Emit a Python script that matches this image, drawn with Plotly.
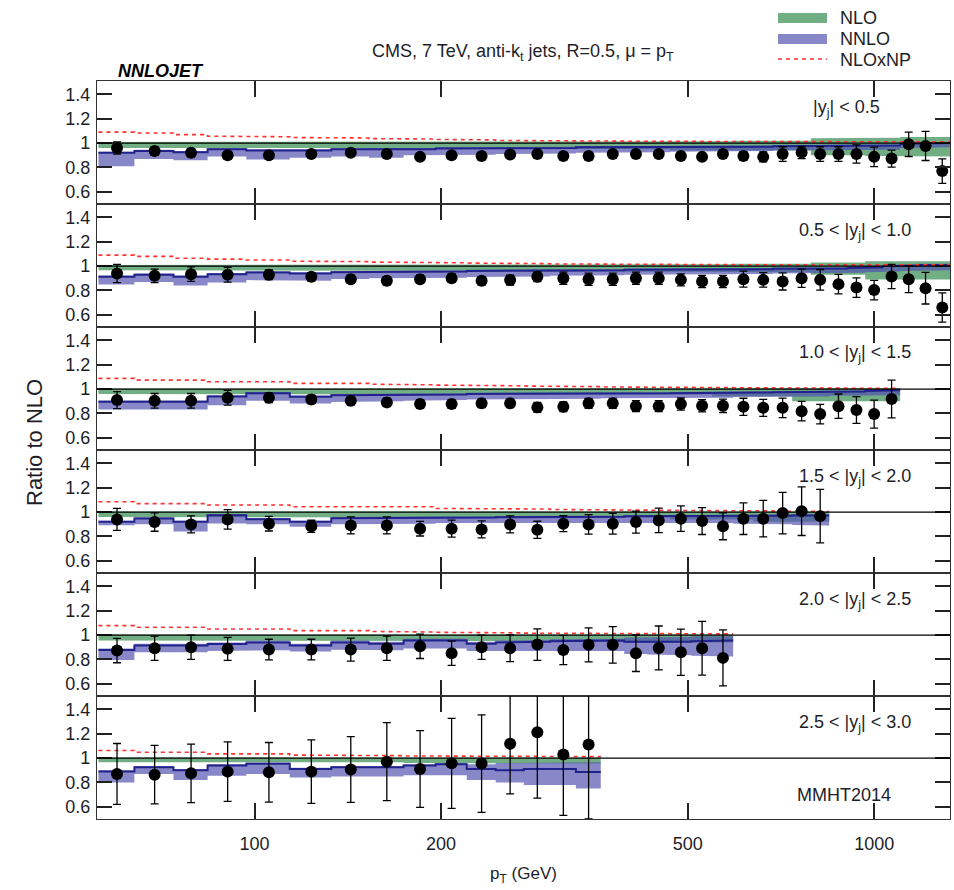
import numpy as np
import plotly.graph_objects as go
from plotly.subplots import make_subplots

# ---------------------------------------------------------------- binning
edges = [56, 64, 74, 84, 97, 114, 133, 153, 174, 196, 220, 245, 272, 300, 330,
         362, 395, 430, 468, 507, 548, 592, 638, 686, 737, 790, 846, 905, 967,
         1032, 1101, 1172, 1248, 1327]

rap_labels = ["|y<sub>j</sub>| < 0.5", "0.5 < |y<sub>j</sub>| < 1.0",
              "1.0 < |y<sub>j</sub>| < 1.5", "1.5 < |y<sub>j</sub>| < 2.0",
              "2.0 < |y<sub>j</sub>| < 2.5", "2.5 < |y<sub>j</sub>| < 3.0"]

# ---------------------------------------------------------------- CMS data / NLO
data1 = [0.96, 0.936, 0.92, 0.90, 0.90, 0.91, 0.92, 0.91, 0.887, 0.90, 0.895, 0.906,
         0.91, 0.895, 0.895, 0.91, 0.91, 0.91, 0.895, 0.887, 0.91, 0.895, 0.887, 0.91,
         0.922, 0.91, 0.91, 0.91, 0.887, 0.873, 0.99, 0.977, 0.77]
err1 = [0.05, 0.035, 0.035, 0.03, 0.025, 0.025, 0.025, 0.025, 0.025, 0.025, 0.025,
        0.025, 0.025, 0.025, 0.025, 0.025, 0.025, 0.025, 0.025, 0.025, 0.03, 0.035,
        0.04, 0.06, 0.05, 0.06, 0.06, 0.075, 0.08, 0.07, 0.10, 0.12, 0.10]

data2 = [0.939, 0.92, 0.934, 0.929, 0.929, 0.912, 0.893, 0.879, 0.893, 0.901, 0.879,
         0.885, 0.912, 0.901, 0.893, 0.893, 0.901, 0.901, 0.887, 0.874, 0.874, 0.893,
         0.887, 0.874, 0.901, 0.887, 0.852, 0.824, 0.803, 0.915, 0.893, 0.819, 0.66]
err2 = [0.075, 0.055, 0.06, 0.06, 0.04, 0.035, 0.035, 0.035, 0.035, 0.035, 0.035,
        0.04, 0.04, 0.05, 0.05, 0.05, 0.05, 0.05, 0.05, 0.05, 0.05, 0.065, 0.06, 0.07,
        0.075, 0.085, 0.08, 0.08, 0.08, 0.10, 0.11, 0.13, 0.12]

data3 = [0.91, 0.904, 0.904, 0.929, 0.929, 0.915, 0.904, 0.891, 0.877, 0.877, 0.883,
         0.883, 0.85, 0.855, 0.883, 0.883, 0.86, 0.86, 0.877, 0.863, 0.863, 0.855,
         0.846, 0.846, 0.819, 0.795, 0.86, 0.828, 0.795, 0.918]
err3 = [0.07, 0.06, 0.06, 0.06, 0.04, 0.035, 0.035, 0.035, 0.035, 0.035, 0.035, 0.035,
        0.04, 0.04, 0.04, 0.04, 0.045, 0.045, 0.05, 0.05, 0.055, 0.07, 0.07, 0.08,
        0.08, 0.08, 0.10, 0.11, 0.115, 0.155]

data4 = [0.94, 0.918, 0.899, 0.94, 0.905, 0.883, 0.891, 0.891, 0.864, 0.864, 0.858,
         0.899, 0.855, 0.905, 0.899, 0.905, 0.918, 0.932, 0.946, 0.926, 0.883, 0.946,
         0.946, 0.992, 1.008, 0.967]
err4 = [0.09, 0.075, 0.07, 0.08, 0.06, 0.05, 0.07, 0.07, 0.06, 0.07, 0.07, 0.07, 0.07,
        0.065, 0.08, 0.085, 0.09, 0.10, 0.105, 0.11, 0.11, 0.13, 0.15, 0.17, 0.20, 0.22]

data5 = [0.873, 0.892, 0.90, 0.887, 0.881, 0.881, 0.881, 0.892, 0.908, 0.851, 0.90,
         0.892, 0.922, 0.878, 0.92, 0.92, 0.851, 0.895, 0.859, 0.892, 0.813]
err5 = [0.10, 0.10, 0.10, 0.095, 0.085, 0.085, 0.095, 0.10, 0.10, 0.10, 0.10, 0.11,
        0.13, 0.12, 0.14, 0.15, 0.15, 0.18, 0.19, 0.22, 0.23]

data6 = [0.87, 0.864, 0.875, 0.889, 0.883, 0.889, 0.906, 0.971, 0.911, 0.957, 0.955,
         1.117, 1.212, 1.029, 1.111]
err6 = [0.25, 0.24, 0.24, 0.245, 0.245, 0.26, 0.27, 0.32, 0.315, 0.37, 0.40, 0.41,
        0.54, 0.50, 0.61]

# ---------------------------------------------------------------- NLO scale band
nlo_hi1 = [1.01] * 18 + [1.015, 1.015, 1.015, 1.02, 1.02, 1.02, 1.02, 1.04, 1.04, 1.04,
                         1.045, 1.045, 1.05, 1.05, 1.05]
nlo_lo1 = [0.96, 0.96, 0.96, 0.96, 0.96, 0.96, 0.96, 0.955, 0.955, 0.955, 0.955, 0.955,
           0.95, 0.95, 0.95, 0.95, 0.95, 0.95, 0.94, 0.94, 0.94, 0.94, 0.94, 0.94, 0.94,
           0.90, 0.90, 0.90, 0.895, 0.89, 0.89, 0.89, 0.89]
nlo_hi2 = [1.01] * 18 + [1.015, 1.015, 1.015, 1.02, 1.02, 1.02, 1.02, 1.03, 1.03, 1.03,
                         1.04, 1.04, 1.04, 1.04, 1.04]
nlo_lo2 = [0.965, 0.965, 0.965, 0.965, 0.965, 0.965, 0.965, 0.96, 0.96, 0.96, 0.96, 0.96,
           0.955, 0.955, 0.955, 0.955, 0.955, 0.955, 0.95, 0.95, 0.95, 0.95, 0.95, 0.95,
           0.95, 0.93, 0.93, 0.93, 0.89, 0.89, 0.89, 0.89, 0.89]
nlo_hi3 = [1.005] * 22 + [1.01] * 8
nlo_lo3 = [0.96] * 14 + [0.955] * 6 + [0.94] * 4 + [0.90] * 6
nlo_hi4 = [1.005] * 26
nlo_lo4 = [0.96] * 12 + [0.955] * 6 + [0.94] * 4 + [0.92] * 4
nlo_hi5 = [1.005] * 21
nlo_lo5 = [0.955] * 12 + [0.95] * 4 + [0.94] * 5
nlo_hi6 = [1.005] * 15
nlo_lo6 = [0.965] * 8 + [0.96] * 3 + [0.955] * 4

# ---------------------------------------------------------------- NNLO / NLO
nnlo_c1 = [0.92, 0.935, 0.925, 0.95, 0.94, 0.94, 0.95, 0.945, 0.95, 0.955, 0.955, 0.96,
           0.96, 0.96, 0.965, 0.965, 0.965, 0.965, 0.965, 0.965, 0.97, 0.97, 0.97, 0.975,
           0.975, 0.975, 0.975, 0.98, 0.98, 0.98, 0.995, 1.0, 1.0]
nnlo_hi1 = [0.93, 0.945, 0.935, 0.96, 0.95, 0.95, 0.96, 0.955, 0.96, 0.965, 0.965, 0.97,
            0.97, 0.97, 0.975, 0.975, 0.975, 0.975, 0.975, 0.975, 0.98, 0.98, 0.98, 0.985,
            0.985, 0.985, 0.985, 0.99, 0.99, 0.99, 1.005, 1.01, 1.01]
nnlo_lo1 = [0.81, 0.87, 0.86, 0.89, 0.865, 0.88, 0.89, 0.88, 0.90, 0.905, 0.905, 0.91,
            0.915, 0.915, 0.92, 0.92, 0.92, 0.925, 0.93, 0.93, 0.935, 0.935, 0.935, 0.94,
            0.94, 0.94, 0.94, 0.945, 0.945, 0.945, 0.96, 0.965, 0.965]

nnlo_c2 = [0.913, 0.93, 0.913, 0.934, 0.947, 0.94, 0.95, 0.95, 0.955, 0.955, 0.96, 0.96,
           0.962, 0.965, 0.965, 0.965, 0.97, 0.97, 0.97, 0.972, 0.975, 0.975, 0.975,
           0.978, 0.98, 0.98, 0.98, 0.985, 0.99, 1.0, 1.005, 1.01, 1.01]
nnlo_hi2 = [0.923, 0.94, 0.923, 0.944, 0.957, 0.95, 0.96, 0.96, 0.965, 0.965, 0.97, 0.97,
            0.972, 0.975, 0.975, 0.975, 0.98, 0.98, 0.98, 0.982, 0.985, 0.985, 0.985,
            0.988, 0.99, 0.99, 0.99, 0.995, 1.0, 1.01, 1.015, 1.02, 1.02]
nnlo_lo2 = [0.85, 0.87, 0.84, 0.865, 0.885, 0.88, 0.895, 0.90, 0.905, 0.905, 0.91, 0.915,
            0.915, 0.92, 0.92, 0.925, 0.93, 0.93, 0.93, 0.935, 0.935, 0.935, 0.935, 0.94,
            0.94, 0.94, 0.94, 0.945, 0.95, 0.955, 0.96, 0.965, 0.965]

nnlo_c3 = [0.896, 0.896, 0.896, 0.94, 0.965, 0.937, 0.95, 0.95, 0.955, 0.955, 0.96, 0.96,
           0.96, 0.962, 0.962, 0.965, 0.965, 0.965, 0.967, 0.967, 0.97, 0.97, 0.972,
           0.975, 0.975, 0.975, 0.98, 0.98, 0.985, 0.99]
nnlo_hi3 = [0.906, 0.906, 0.906, 0.95, 0.975, 0.947, 0.96, 0.96, 0.965, 0.965, 0.97, 0.97,
            0.97, 0.972, 0.972, 0.975, 0.975, 0.975, 0.977, 0.977, 0.98, 0.98, 0.982,
            0.985, 0.985, 0.985, 0.99, 0.99, 0.995, 1.0]
nnlo_lo3 = [0.833, 0.833, 0.833, 0.868, 0.904, 0.882, 0.895, 0.90, 0.905, 0.91, 0.915,
            0.915, 0.915, 0.92, 0.92, 0.925, 0.925, 0.925, 0.93, 0.93, 0.93, 0.935, 0.935,
            0.94, 0.94, 0.94, 0.945, 0.945, 0.95, 0.95]

nnlo_c4 = [0.92, 0.948, 0.92, 0.975, 0.942, 0.92, 0.95, 0.95, 0.952, 0.955, 0.955, 0.958,
           0.96, 0.96, 0.962, 0.962, 0.965, 0.965, 0.965, 0.967, 0.967, 0.97, 0.97, 0.97,
           0.972, 0.972]
nnlo_hi4 = [0.93, 0.958, 0.93, 0.985, 0.952, 0.93, 0.96, 0.96, 0.962, 0.965, 0.965, 0.968,
            0.97, 0.97, 0.972, 0.972, 0.975, 0.975, 0.975, 0.977, 0.977, 0.98, 0.98, 0.98,
            0.982, 0.982]
nnlo_lo4 = [0.893, 0.90, 0.84, 0.907, 0.90, 0.88, 0.90, 0.905, 0.905, 0.91, 0.91, 0.912,
            0.915, 0.915, 0.915, 0.915, 0.915, 0.915, 0.915, 0.91, 0.91, 0.905, 0.90, 0.90,
            0.895, 0.89]

nnlo_c5 = [0.878, 0.914, 0.914, 0.928, 0.94, 0.914, 0.94, 0.93, 0.955, 0.955, 0.93, 0.94,
           0.945, 0.95, 0.95, 0.955, 0.945, 0.94, 0.945, 0.95, 0.955]
nnlo_hi5 = [0.89, 0.93, 0.93, 0.94, 0.955, 0.93, 0.955, 0.945, 0.97, 0.97, 0.945, 0.955,
            0.96, 0.965, 0.965, 0.97, 0.98, 0.985, 0.985, 0.99, 0.99]
nnlo_lo5 = [0.796, 0.859, 0.86, 0.87, 0.875, 0.865, 0.88, 0.875, 0.89, 0.89, 0.87, 0.875,
            0.875, 0.875, 0.87, 0.87, 0.845, 0.84, 0.835, 0.83, 0.825]

nnlo_c6 = [0.89, 0.925, 0.90, 0.94, 0.953, 0.91, 0.925, 0.925, 0.94, 0.95, 0.91, 0.90,
           0.91, 0.91, 0.886]
nnlo_hi6 = [0.90, 0.935, 0.91, 0.95, 0.963, 0.92, 0.935, 0.935, 0.95, 0.96, 0.95, 0.96,
            0.965, 0.965, 0.965]
nnlo_lo6 = [0.80, 0.87, 0.82, 0.856, 0.87, 0.84, 0.85, 0.85, 0.86, 0.86, 0.82, 0.80, 0.78,
            0.78, 0.75]

# ---------------------------------------------------------------- NLO x NP / NLO
np1 = [1.09, 1.083, 1.07, 1.057, 1.052, 1.046, 1.042, 1.037, 1.033, 1.03, 1.026, 1.022,
       1.02, 1.018, 1.017, 1.016, 1.015, 1.014, 1.013, 1.012, 1.012, 1.011, 1.011, 1.01,
       1.01, 1.01, 1.01, 1.01, 1.01, 1.01, 1.01, 1.01, 1.01]
np2 = [1.09, 1.08, 1.065, 1.057, 1.05, 1.04, 1.037, 1.033, 1.03, 1.027, 1.025, 1.022,
       1.02, 1.018, 1.017, 1.016, 1.015, 1.014, 1.013, 1.012, 1.012, 1.011, 1.011, 1.01,
       1.01, 1.01, 1.01, 1.01, 1.01, 1.01, 1.01, 1.01, 1.01]
np3 = [1.088, 1.074, 1.074, 1.06, 1.06, 1.047, 1.047, 1.04, 1.035, 1.033, 1.03, 1.027,
       1.025, 1.022, 1.02, 1.018, 1.016, 1.015, 1.014, 1.013, 1.012, 1.011, 1.01, 1.01,
       1.008, 1.007, 1.006, 1.006, 1.006, 1.006]
np4 = [1.085, 1.07, 1.07, 1.058, 1.058, 1.044, 1.044, 1.044, 1.044, 1.03, 1.03, 1.027,
       1.025, 1.022, 1.02, 1.018, 1.016, 1.015, 1.013, 1.012, 1.011, 1.01, 1.01, 1.008,
       1.006, 1.005]
np5 = [1.078, 1.065, 1.065, 1.05, 1.05, 1.037, 1.037, 1.03, 1.025, 1.023, 1.02, 1.018,
       1.016, 1.015, 1.013, 1.012, 1.011, 1.01, 1.01, 1.01, 1.01]
np6 = [1.062, 1.048, 1.048, 1.035, 1.035, 1.025, 1.025, 1.02, 1.018, 1.016, 1.015, 1.014,
       1.013, 1.012, 1.012]

panels = [
    (data1, err1, nlo_lo1, nlo_hi1, nnlo_c1, nnlo_lo1, nnlo_hi1, np1),
    (data2, err2, nlo_lo2, nlo_hi2, nnlo_c2, nnlo_lo2, nnlo_hi2, np2),
    (data3, err3, nlo_lo3, nlo_hi3, nnlo_c3, nnlo_lo3, nnlo_hi3, np3),
    (data4, err4, nlo_lo4, nlo_hi4, nnlo_c4, nnlo_lo4, nnlo_hi4, np4),
    (data5, err5, nlo_lo5, nlo_hi5, nnlo_c5, nnlo_lo5, nnlo_hi5, np5),
    (data6, err6, nlo_lo6, nlo_hi6, nnlo_c6, nnlo_lo6, nnlo_hi6, np6),
]

# ---------------------------------------------------------------- style
FONT = "Liberation Sans, Arial, sans-serif"
TXT = "#1e1e28"
NLO_FILL = "rgba(106,170,125,0.95)"
NNLO_FILL = "rgba(80,80,175,0.68)"
NNLO_LINE = "#22228c"
NP_COLOR = "#ff3030"
X_RANGE = [np.log10(55.7), np.log10(1325)]
Y_RANGE = [0.5, 1.51]


def steps(vals):
    """Histogram-style outline of per-bin values."""
    xs, ys = [], []
    for i, v in enumerate(vals):
        xs += [edges[i], edges[i + 1]]
        ys += [v, v]
    return xs, ys


def band(lo, hi):
    xh, yh = steps(hi)
    xl, yl = steps(lo)
    return xh + xl[::-1], yh + yl[::-1]


fig = make_subplots(rows=6, cols=1, shared_xaxes=True, vertical_spacing=0)

for r, (dat, err, nlo_lo, nlo_hi, nn_c, nn_lo, nn_hi, npc) in enumerate(panels, start=1):
    n = len(dat)
    centers = [(edges[i] + edges[i + 1]) / 2 for i in range(n)]

    bx, by = band(nlo_lo, nlo_hi)
    fig.add_trace(go.Scatter(x=bx, y=by, fill="toself", fillcolor=NLO_FILL,
                             line=dict(width=0), mode="lines", hoverinfo="skip",
                             showlegend=False), row=r, col=1)
    bx, by = band(nn_lo, nn_hi)
    fig.add_trace(go.Scatter(x=bx, y=by, fill="toself", fillcolor=NNLO_FILL,
                             line=dict(width=0), mode="lines", hoverinfo="skip",
                             showlegend=False), row=r, col=1)
    sx, sy = steps(nn_c)
    fig.add_trace(go.Scatter(x=sx, y=sy, mode="lines",
                             line=dict(color=NNLO_LINE, width=2),
                             showlegend=False), row=r, col=1)
    fig.add_hline(y=1.0, line=dict(color="black", width=1.2), row=r, col=1)
    sx, sy = steps(npc)
    fig.add_trace(go.Scatter(x=sx, y=sy, mode="lines",
                             line=dict(color=NP_COLOR, width=1.6, dash="4px,4px"),
                             showlegend=False), row=r, col=1)
    fig.add_trace(go.Scatter(x=centers, y=dat, mode="markers",
                             marker=dict(color="black", size=12),
                             error_y=dict(type="data", array=err, color="black",
                                          thickness=1.3, width=4),
                             showlegend=False), row=r, col=1)

    fig.update_yaxes(range=Y_RANGE, tickvals=[0.6, 0.8, 1.0, 1.2, 1.4],
                     ticktext=["0.6", "0.8", "1", "1.2", "1.4"],
                     ticks="inside", ticklen=15, tickwidth=1.5, tickcolor="#222",
                     showline=True, linecolor="#333", linewidth=1.1, mirror="ticks",
                     showgrid=False, zeroline=False, ticklabelstandoff=2,
                     tickfont=dict(family=FONT, size=18, color=TXT), row=r, col=1)
    fig.update_xaxes(type="log", range=X_RANGE, tickvals=[100, 200, 500, 1000],
                     ticktext=["100", "200", "500", "1000"],
                     ticks="inside", ticklen=16, tickwidth=1.5, tickcolor="#222",
                     showline=True, linecolor="#333", linewidth=1.1, mirror="ticks",
                     showgrid=False, zeroline=False,
                     tickfont=dict(family=FONT, size=18, color=TXT), row=r, col=1)

fig.update_xaxes(ticklabelstandoff=8,
                 title=dict(text="p<sub>T</sub> (GeV)", standoff=14,
                            font=dict(family=FONT, size=17, color=TXT)), row=6, col=1)

# ---------------------------------------------------------------- text
L, R, T, B, W, H = 97, 4, 81, 71, 954, 890
PW, PH = W - L - R, H - T - B


def px(x):
    return (x - L) / PW


def py(y):
    return (H - B - y) / PH


annotations = []
label_pos = [(882, 108), (913, 232), (913, 353), (913, 477), (913, 600), (913, 723)]
for text, (lx, ly) in zip(rap_labels, label_pos):
    annotations.append(dict(text=text, x=px(lx), y=py(ly), xref="paper", yref="paper",
                            xanchor="right", yanchor="middle", showarrow=False,
                            font=dict(family=FONT, size=18, color=TXT)))
annotations += [
    dict(text="MMHT2014", x=px(893), y=py(795), xref="paper", yref="paper",
         xanchor="right", yanchor="middle", showarrow=False,
         font=dict(family=FONT, size=18, color=TXT)),
    dict(text="CMS, 7 TeV, anti-k<sub>t</sub> jets, R=0.5, μ = p<sub>T</sub>",
         x=px(523), y=py(52), xref="paper", yref="paper", xanchor="center",
         yanchor="middle", showarrow=False, font=dict(family=FONT, size=18, color=TXT)),
    dict(text="<b><i>NNLOJET</i></b>", x=px(116), y=py(71), xref="paper", yref="paper",
         xanchor="left", yanchor="middle", showarrow=False,
         font=dict(family=FONT, size=18, color="black")),
    dict(text="Ratio to NLO", x=px(34), y=py(443), xref="paper", yref="paper",
         xanchor="center", yanchor="middle", textangle=-90, showarrow=False,
         font=dict(family=FONT, size=22, color=TXT)),
]

# legend
leg_names = ["NLO", "NNLO", "NLOxNP"]
leg_y = [18, 39, 60]
shapes = [
    dict(type="rect", xref="paper", yref="paper", x0=px(778), x1=px(827),
         y0=py(23), y1=py(13), fillcolor=NLO_FILL, line=dict(width=0)),
    dict(type="rect", xref="paper", yref="paper", x0=px(778), x1=px(827),
         y0=py(44), y1=py(34), fillcolor=NNLO_FILL, line=dict(width=0)),
    dict(type="line", xref="paper", yref="paper", x0=px(778), x1=px(827),
         y0=py(59), y1=py(59), line=dict(color=NP_COLOR, width=1.6, dash="4px,4px")),
]
for name, ly in zip(leg_names, leg_y):
    annotations.append(dict(text=name, x=px(838), y=py(ly), xref="paper", yref="paper",
                            xanchor="left", yanchor="middle", showarrow=False,
                            font=dict(family=FONT, size=18, color=TXT)))

for s in shapes:
    fig.add_shape(**s)
for a in annotations:
    fig.add_annotation(**a)

fig.update_layout(width=W, height=H, margin=dict(l=L, r=R, t=T, b=B),
                  paper_bgcolor="white", plot_bgcolor="white", showlegend=False,
                  font=dict(family=FONT, color=TXT))

fig.write_html("out.html")
